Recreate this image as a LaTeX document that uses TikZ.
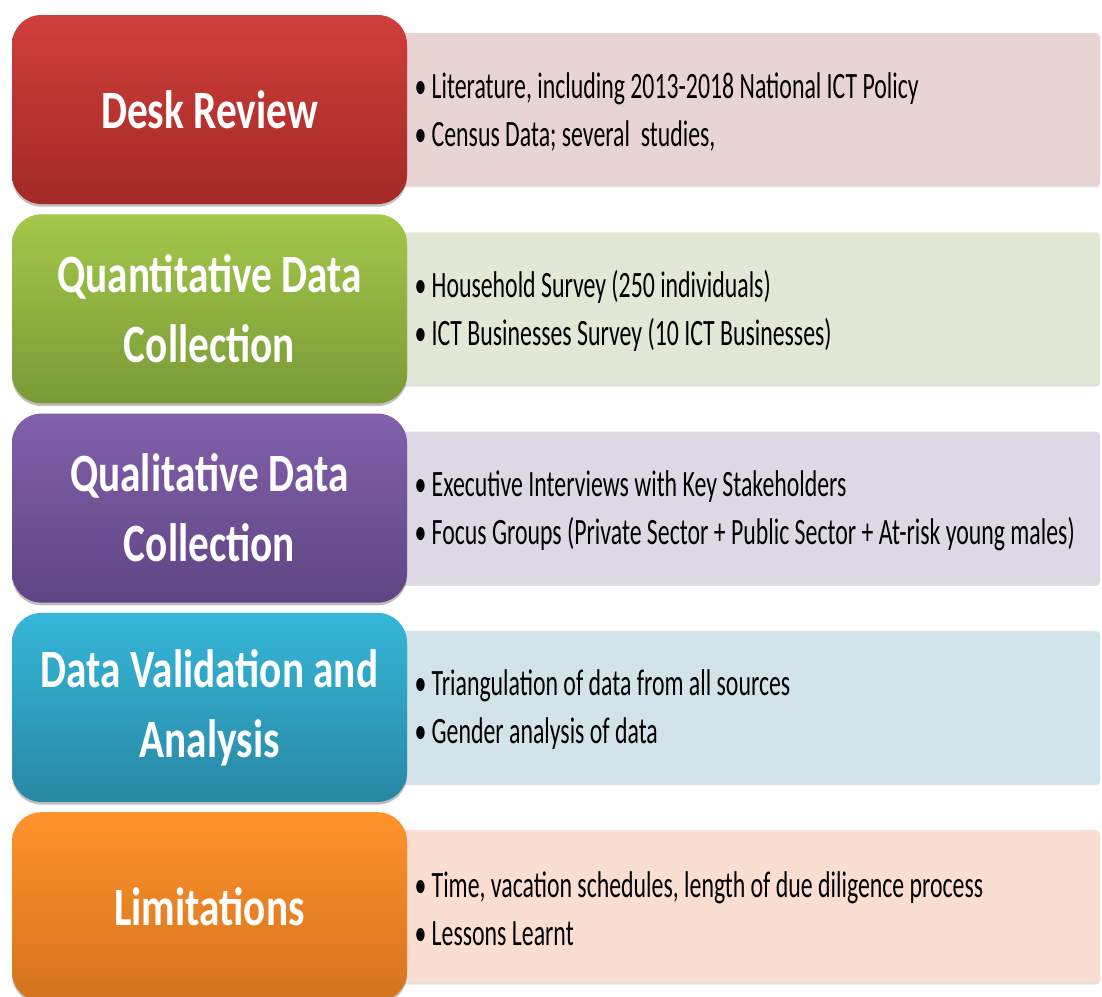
\documentclass[tikz,border=0pt]{standalone}
\usepackage{fontspec}
\newfontfamily\stagefont[FakeStretch=0.765]{Carlito}
\newfontfamily\itemfont[FakeStretch=0.64]{Carlito}
\usetikzlibrary{shadows}

% stage colours (top / bottom of the shading) and the pale panel behind
\definecolor{deskTop}{RGB}{208,62,58}
\definecolor{deskBot}{RGB}{162,42,39}
\definecolor{deskPale}{RGB}{233,212,212}
\definecolor{quantTop}{RGB}{163,200,74}
\definecolor{quantBot}{RGB}{121,154,55}
\definecolor{quantPale}{RGB}{226,231,214}
\definecolor{qualTop}{RGB}{130,96,172}
\definecolor{qualBot}{RGB}{95,69,131}
\definecolor{qualPale}{RGB}{221,217,228}
\definecolor{validTop}{RGB}{53,182,217}
\definecolor{validBot}{RGB}{40,136,163}
\definecolor{validPale}{RGB}{211,227,234}
\definecolor{limitTop}{RGB}{255,146,43}
\definecolor{limitBot}{RGB}{212,115,31}
\definecolor{limitPale}{RGB}{250,222,210}

\newcommand{\itembul}{\textbullet\hspace{4pt}}

\tikzset{every picture/.style={line width=0.75pt}}
\tikzset{
  stage/.style={rounded corners=22pt, minimum width=296.25pt, minimum height=141.75pt,
    text=white, align=center, inner sep=0pt,
    font=\stagefont\bfseries\fontsize{40.5}{52.5}\selectfont,
    drop shadow={shadow xshift=0pt, shadow yshift=-2pt, opacity=0.25, fill=black}},
  panel/.style={rounded corners=3pt, minimum width=528.75pt, minimum height=114.75pt,
    drop shadow={shadow xshift=0pt, shadow yshift=-1pt, opacity=0.12, fill=black}},
  items/.style={anchor=west, align=left, inner sep=0pt,
    font=\itemfont\fontsize{27.9}{36}\selectfont},
}

\begin{document}
\begin{tikzpicture}[x=0.75pt,y=0.75pt,yscale=-1,xscale=1]
\useasboundingbox (0,0) rectangle (1102,996);

%Pale panels
\node [panel, fill=deskPale]  (deskP)  at (747.5,109.5) {};
\node [panel, fill=quantPale] (quantP) at (747.5,308.8) {};
\node [panel, fill=qualPale]  (qualP)  at (747.5,508.1) {};
\node [panel, fill=validPale] (validP) at (747.5,707.4) {};
\node [panel, fill=limitPale] (limitP) at (747.5,906.7) {};

%Stage boxes
\node [stage, top color=deskTop, bottom color=deskBot]   (desk)  at (209.5,109.5) {Desk Review};
\node [stage, top color=quantTop, bottom color=quantBot] (quant) at (209.5,308.8) {Quantitative Data\\Collection};
\node [stage, top color=qualTop, bottom color=qualBot]   (qual)  at (209.5,508.1) {Qualitative Data\\Collection};
\node [stage, top color=validTop, bottom color=validBot] (valid) at (209.5,707.4) {Data Validation and\\Analysis};
\node [stage, top color=limitTop, bottom color=limitBot] (limit) at (209.5,906.7) {Limitations};

% Text Nodes
\node [items] (deskT)  at (414,112) {\itembul Literature, including 2013-2018 National ICT Policy\\ \itembul Census Data; several\ \ studies,};
\node [items] (quantT) at (414,311.3) {\itembul Household Survey (250 individuals)\\ \itembul ICT Businesses Survey (10 ICT Businesses)};
\node [items] (qualT)  at (414,510.6) {\itembul Executive Interviews with Key Stakeholders\\ \itembul Focus Groups (Private Sector + Public Sector + At-risk young males)};
\node [items] (validT) at (414,709.9) {\itembul Triangulation of data from all sources\\ \itembul Gender analysis of data};
\node [items] (limitT) at (414,909.2) {\itembul Time, vacation schedules, length of due diligence process\\ \itembul Lessons Learnt};

\end{tikzpicture}
\end{document}
